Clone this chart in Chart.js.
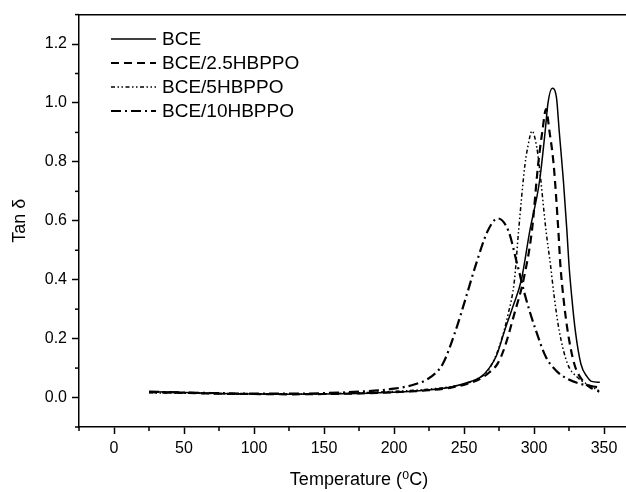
<!DOCTYPE html>
<html>
<head>
<meta charset="utf-8">
<script src="https://cdn.jsdelivr.net/npm/chart.js@4/dist/chart.umd.min.js"></script>
<style>
html, body { margin: 0; padding: 0; background: #fff; overflow: hidden; }
#wrap { width: 645px; height: 492px; }
</style>
</head>
<body>
<div id="wrap"><canvas id="tanDelta"></canvas></div>
<script>
// tick labels
const xTicks = [0, 50, 100, 150, 200, 250, 300, 350];
const yTicks = [0.0, 0.2, 0.4, 0.6, 0.8, 1.0, 1.2];

const seriesNames = ['BCE', 'BCE/2.5HBPPO', 'BCE/5HBPPO', 'BCE/10HBPPO'];

// BCE
const bceTemp = [25, 50, 75, 100, 125, 150, 175, 200, 225, 240, 252, 262, 268, 273, 279, 285, 291, 297, 304, 308, 310, 313, 316, 318, 321, 323.5, 325, 327, 329.5, 333.5, 338, 341, 347];
const bceTan = [0.020, 0.017, 0.014, 0.012, 0.011, 0.012, 0.014, 0.018, 0.026, 0.035, 0.050, 0.070, 0.100, 0.140, 0.227, 0.310, 0.400, 0.566, 0.736, 0.905, 1.000, 1.050, 1.020, 0.905, 0.736, 0.566, 0.450, 0.340, 0.227, 0.114, 0.070, 0.055, 0.052];

// BCE/2.5HBPPO
const hb25Temp = [25, 50, 75, 100, 125, 150, 175, 200, 225, 240, 252, 262, 268, 274, 279, 286, 292.5, 298.5, 303, 306, 308.6, 311, 314, 317.4, 318.8, 321, 324, 328.8, 334.8, 340, 346.6];
const hb25Tan = [0.018, 0.016, 0.013, 0.012, 0.011, 0.012, 0.014, 0.018, 0.025, 0.033, 0.046, 0.065, 0.085, 0.115, 0.170, 0.285, 0.400, 0.566, 0.793, 0.905, 0.979, 0.905, 0.793, 0.566, 0.453, 0.340, 0.227, 0.114, 0.057, 0.035, 0.020];

// BCE/5HBPPO
const hb5Temp = [25, 50, 75, 100, 125, 150, 175, 200, 226, 250, 260, 267, 275, 281.6, 286, 289, 293.6, 295.5, 298.6, 302, 303.6, 308.6, 311.7, 314.5, 318, 324, 331, 340, 346.6];
const hb5Tan = [0.016, 0.015, 0.013, 0.012, 0.012, 0.013, 0.016, 0.021, 0.029, 0.046, 0.065, 0.090, 0.170, 0.285, 0.397, 0.566, 0.793, 0.849, 0.905, 0.849, 0.793, 0.566, 0.453, 0.340, 0.227, 0.114, 0.069, 0.040, 0.023];

// BCE/10HBPPO
const hb10Temp = [25, 50, 75, 100, 125, 150, 175, 200, 215, 226, 234.8, 244, 251.4, 258.6, 267, 274, 281.7, 288, 294, 301.4, 308.6, 315.7, 324, 333.6, 345.5];
const hb10Tan = [0.020, 0.017, 0.015, 0.013, 0.013, 0.015, 0.020, 0.030, 0.045, 0.069, 0.114, 0.227, 0.340, 0.453, 0.566, 0.608, 0.566, 0.453, 0.340, 0.227, 0.137, 0.092, 0.063, 0.046, 0.035];

const toPoints = (temps, vals) => temps.map((t, i) => ({ x: t, y: vals[i] }));

Chart.defaults.font.family = '"Liberation Sans", Arial, "DejaVu Sans", sans-serif';
Chart.defaults.color = '#000';

// minor ticks halfway between the major ones
const minorTicks = {
	id: 'minorTicks',
	afterDraw(chart) {
		const { ctx, chartArea, scales } = chart;
		ctx.save();
		ctx.strokeStyle = '#000';
		ctx.lineWidth = 1.5;
		for (let i = 0; i <= xTicks.length; i++) {
			const v = (i === 0 ? xTicks[0] - 25 : xTicks[i - 1] + 25);
			const px = scales.x.getPixelForValue(v);
			ctx.beginPath();
			ctx.moveTo(px, chartArea.bottom);
			ctx.lineTo(px, chartArea.bottom + 4);
			ctx.stroke();
		}
		for (let i = 0; i <= yTicks.length; i++) {
			const v = (i === 0 ? yTicks[0] - 0.1 : yTicks[i - 1] + 0.1);
			const py = scales.y.getPixelForValue(v);
			ctx.beginPath();
			ctx.moveTo(chartArea.left, py);
			ctx.lineTo(chartArea.left - 4, py);
			ctx.stroke();
		}
		ctx.restore();
	}
};

// legend inside the plot, top left
const insideLegend = {
	id: 'insideLegend',
	afterDatasetsDraw(chart) {
		const ctx = chart.ctx;
		ctx.save();
		ctx.font = '19px "Liberation Sans", Arial, sans-serif';
		ctx.textBaseline = 'middle';
		ctx.fillStyle = '#000';
		chart.data.datasets.forEach((ds, i) => {
			const y = 39 + i * 24;
			ctx.beginPath();
			ctx.setLineDash(ds.borderDash || []);
			ctx.lineWidth = ds.borderWidth;
			ctx.strokeStyle = ds.borderColor;
			ctx.moveTo(111, y);
			ctx.lineTo(156, y);
			ctx.stroke();
			ctx.setLineDash([]);
			ctx.fillText(ds.label, 162, y + 1);
		});
		ctx.restore();
	}
};

const ctx = document.getElementById('tanDelta').getContext('2d');
const tanDeltaChart = new Chart(ctx, {
	type: 'line',
	data: {
		datasets: [{
			label: seriesNames[0],
			data: toPoints(bceTemp, bceTan),
			borderColor: '#000',
			borderWidth: 1.5,
			borderDash: [],
			pointRadius: 0,
			cubicInterpolationMode: 'monotone',
			fill: false,
		}, {
			label: seriesNames[1],
			data: toPoints(hb25Temp, hb25Tan),
			borderColor: '#000',
			borderWidth: 2.2,
			borderDash: [8, 5],
			pointRadius: 0,
			cubicInterpolationMode: 'monotone',
			fill: false,
		}, {
			label: seriesNames[2],
			data: toPoints(hb5Temp, hb5Tan),
			borderColor: '#000',
			borderWidth: 1.5,
			borderDash: [4, 2.5, 1.5, 2.5, 1.5, 2.5],
			pointRadius: 0,
			cubicInterpolationMode: 'monotone',
			fill: false,
		}, {
			label: seriesNames[3],
			data: toPoints(hb10Temp, hb10Tan),
			borderColor: '#000',
			borderWidth: 2.2,
			borderDash: [10, 4, 2, 4],
			pointRadius: 0,
			cubicInterpolationMode: 'monotone',
			fill: false,
		}]
	},
	options: {
		responsive: true,
		maintainAspectRatio: false,
		animation: false,
		layout: { padding: { left: 0, right: 6, top: 0, bottom: 0 } },
		scales: {
			x: {
				type: 'linear',
				min: -25,
				max: 375,
				afterBuildTicks: scale => { scale.ticks = xTicks.map(v => ({ value: v })); },
				afterFit: scale => { scale.height = 65; },
				ticks: {
					autoSkip: false,
					maxRotation: 0,
					padding: 5,
					font: { size: 16 },
					callback: value => String(value),
				},
				grid: {
					drawOnChartArea: false,
					tickLength: 7,
					tickWidth: 1.5,
					tickColor: '#000',
				},
				border: { display: true, color: '#000', width: 1.5 },
				title: {
					display: true,
					text: 'Temperature (\u2070C)',
					font: { size: 18 },
					padding: { top: 0, bottom: 1 },
				},
			},
			xTop: {
				type: 'linear',
				position: 'top',
				min: -25,
				max: 375,
				afterFit: scale => { scale.height = 13; },
				ticks: { display: false },
				grid: { drawOnChartArea: false, drawTicks: false },
				border: { display: true, color: '#000', width: 1.5 },
			},
			y: {
				min: -0.1,
				max: 1.3,
				afterBuildTicks: scale => { scale.ticks = yTicks.map(v => ({ value: v })); },
				afterFit: scale => { scale.width = 79; },
				ticks: {
					padding: 5,
					font: { size: 16 },
					callback: value => Number(value).toFixed(1),
				},
				grid: {
					drawOnChartArea: false,
					tickLength: 7,
					tickWidth: 1.5,
					tickColor: '#000',
				},
				border: { display: true, color: '#000', width: 1.5 },
				title: {
					display: true,
					text: 'Tan \u03b4',
					font: { size: 18 },
					padding: { top: 9, bottom: 0 },
				},
			},
		},
		plugins: {
			legend: { display: false },
			tooltip: { enabled: false },
			title: { display: false },
		}
	},
	plugins: [minorTicks, insideLegend]
});
</script>
</body>
</html>
